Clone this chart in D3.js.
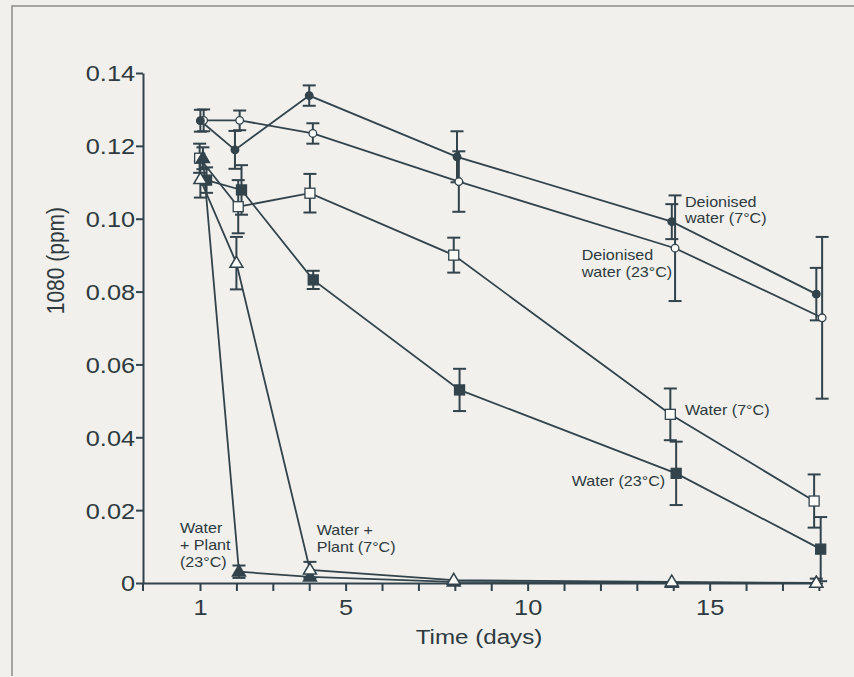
<!DOCTYPE html>
<html>
<head>
<meta charset="utf-8">
<script src="https://cdn.jsdelivr.net/npm/d3@7/dist/d3.min.js"></script>
<style>
  html, body { margin: 0; padding: 0; background: #f1f0ec; }
  svg { display: block; }
  text { font-family: "Liberation Sans", Arial, Helvetica, sans-serif; fill: #2e3a40; }
</style>
</head>
<body>
<svg id="chart" width="854" height="677"></svg>
<script>
// ---------------- data ----------------
const xTicks = [1,2,3,4,5,6,7,8,9,10,11,12,13,14,15,16,17,18];
const xTickLabels = [1, 5, 10, 15];
const yTicks = [0, 0.02, 0.04, 0.06, 0.08, 0.10, 0.12, 0.14];

// Deionised water (7°C) - filled circles
const deion7Days = [1.01, 1.96, 4.00, 8.06, 13.96, 17.93];
const deion7Vals = [0.1269, 0.1189, 0.1338, 0.1170, 0.0992, 0.0793];
const deion7Err  = [0.0030, 0.0052, 0.0028, 0.0070, 0.0048, 0.0072];

// Deionised water (23°C) - open circles
const deion23Days = [1.10, 2.09, 4.10, 8.11, 14.05, 18.09];
const deion23Vals = [0.1270, 0.1270, 0.1234, 0.1102, 0.0919, 0.0728];
const deion23Err  = [0.0030, 0.0027, 0.0028, 0.0083, 0.0145, 0.0222];

// Water (7°C) - open squares
const water7Days = [0.99, 2.05, 4.02, 7.97, 13.92, 17.87];
const water7Vals = [0.1166, 0.1033, 0.1070, 0.0900, 0.0463, 0.0225];
const water7Err  = [0.0040, 0.0073, 0.0053, 0.0048, 0.0071, 0.0073];

// Water (23°C) - filled squares
const water23Days = [1.18, 2.14, 4.11, 8.13, 14.08, 18.05];
const water23Vals = [0.1106, 0.1079, 0.0832, 0.0530, 0.0301, 0.0093];
const water23Err  = [0.0035, 0.0068, 0.0025, 0.0058, 0.0087, 0.0088];

// Water + Plant (7°C) - open triangles
const plant7Days = [1.01, 2.00, 4.02, 7.97, 13.96, 17.93];
const plant7Vals = [0.1108, 0.0878, 0.0036, 0.0008, 0.0003, 0.0000];
const plant7Err  = [0.0050, 0.0072, 0.0022, 0.0000, 0.0000, 0.0012];

// Water + Plant (23°C) - filled triangles
const plant23Days = [1.08, 2.07, 4.02, 7.97, 13.96, 17.93];
const plant23Vals = [0.1166, 0.0031, 0.0017, 0.0003, 0.0000, 0.0000];
const plant23Err  = [0.0030, 0.0017, 0.0000, 0.0000, 0.0000, 0.0000];

const seriesLabels = {
  deion7: ["Deionised", "water (7°C)"],
  deion23: ["Deionised", "water (23°C)"],
  water7: ["Water (7°C)"],
  water23: ["Water (23°C)"],
  plant7: ["Water +", "Plant (7°C)"],
  plant23: ["Water", "+ Plant", "(23°C)"]
};

// ---------------- build ----------------
const ink = "#32434c";
const paper = "#f1f0ec";
const openFill = "#fbfbf8";
const svg = d3.select("#chart");

function zip(days, vals, errs) {
  return days.map((d, i) => ({ d: d, v: vals[i], e: errs[i] }));
}
const series = [
  { key: "deion23", shape: "circle", filled: false, pts: zip(deion23Days, deion23Vals, deion23Err) },
  { key: "deion7",  shape: "circle", filled: true,  pts: zip(deion7Days, deion7Vals, deion7Err) },
  { key: "water7",  shape: "square", filled: false, pts: zip(water7Days, water7Vals, water7Err) },
  { key: "water23", shape: "square", filled: true,  pts: zip(water23Days, water23Vals, water23Err) },
  { key: "plant23", shape: "triangle", filled: true,  pts: zip(plant23Days, plant23Vals, plant23Err) },
  { key: "plant7",  shape: "triangle", filled: false, pts: zip(plant7Days, plant7Vals, plant7Err) }
];

// frame
svg.append("rect").attr("x", 0).attr("y", 0).attr("width", 854).attr("height", 677).attr("fill", paper);
svg.append("path").attr("d", "M12,676 L12,6 L854,6").attr("fill", "none").attr("stroke", "#8a8a88").attr("stroke-width", 1.5);

const x = d3.scaleLinear().domain([-0.566, 18.1]).range([143, 822.5]);
const y = d3.scaleLinear().domain([0, 0.14]).range([583, 73]);

const SX = 1.15; // horizontal stretch of the printed type

// Y axis
const yAxis = svg.append("g").attr("transform", "translate(143,0)")
  .call(d3.axisLeft(y).tickValues(yTicks).tickSize(7).tickSizeOuter(0)
    .tickFormat(v => v === 0 ? "0" : d3.format(".2f")(v)));
yAxis.select(".domain").attr("stroke", ink).attr("stroke-width", 2);
yAxis.selectAll(".tick line").attr("stroke", ink).attr("stroke-width", 2);
yAxis.selectAll(".tick text")
  .attr("x", -8 / SX).attr("dy", "0.36em")
  .attr("transform", `scale(${SX},1)`)
  .style("font-size", "22px").style("fill", "#2e3a40");

// X axis
const xAxis = svg.append("g").attr("transform", `translate(0,${y(0)})`)
  .call(d3.axisBottom(x).tickValues(xTicks).tickSize(8).tickSizeOuter(0)
    .tickFormat(v => xTickLabels.includes(v) ? String(v) : ""));
xAxis.select(".domain").attr("stroke", ink).attr("stroke-width", 2);
xAxis.selectAll(".tick line").attr("stroke", ink).attr("stroke-width", 2);
xAxis.selectAll(".tick text")
  .attr("y", 32).attr("dy", 0)
  .attr("transform", `scale(${SX},1)`)
  .style("font-size", "22px").style("fill", "#2e3a40");
// small downward extension of the y axis below the x axis
svg.append("line").attr("x1", 143).attr("x2", 143).attr("y1", y(0)).attr("y2", y(0) + 8)
  .attr("stroke", ink).attr("stroke-width", 2);

// Axis titles
svg.append("text")
  .attr("transform", `translate(479,644) scale(${SX},1)`)
  .attr("text-anchor", "middle").style("font-size", "21px").text("Time (days)");
svg.append("text")
  .attr("transform", `translate(64,${y(0.0885)}) scale(${SX},1) rotate(-90)`)
  .attr("text-anchor", "middle").style("font-size", "21px").text("1080 (ppm)");

// Lines
const line = d3.line().x(p => x(p.d)).y(p => y(p.v));
svg.append("g").selectAll("path").data(series).join("path")
  .attr("d", s => line(s.pts))
  .attr("fill", "none").attr("stroke", ink).attr("stroke-width", 1.8);

// Error bars
const cap = 6.5;
const eb = svg.append("g").attr("stroke", ink).attr("stroke-width", 2).attr("fill", "none");
series.forEach(s => {
  s.pts.filter(p => p.e > 0).forEach(p => {
    const cx = x(p.d), y1 = y(Math.max(0, p.v - p.e)), y2 = y(p.v + p.e);
    eb.append("line").attr("x1", cx).attr("x2", cx).attr("y1", y1).attr("y2", y2);
    eb.append("line").attr("x1", cx - cap).attr("x2", cx + cap).attr("y1", y2).attr("y2", y2);
    if (p.v - p.e > 0)
      eb.append("line").attr("x1", cx - cap).attr("x2", cx + cap).attr("y1", y1).attr("y2", y1);
  });
});

// Markers
const mk = svg.append("g");
series.forEach(s => {
  s.pts.forEach(p => {
    const cx = x(p.d), cy = y(p.v);
    const fill = s.filled ? ink : openFill;
    if (s.shape === "circle") {
      mk.append("circle").attr("cx", cx).attr("cy", cy).attr("r", 3.8)
        .attr("fill", fill).attr("stroke", ink).attr("stroke-width", 1.3);
    } else if (s.shape === "square") {
      mk.append("rect").attr("x", cx - 5).attr("y", cy - 5).attr("width", 10).attr("height", 10)
        .attr("fill", fill).attr("stroke", ink).attr("stroke-width", 1.3);
    } else {
      const w = 6.5, h = 11;
      mk.append("path")
        .attr("d", `M${cx},${cy - h * 0.62} L${cx + w},${cy + h * 0.38} L${cx - w},${cy + h * 0.38} Z`)
        .attr("fill", fill).attr("stroke", ink).attr("stroke-width", 1.5).attr("stroke-linejoin", "miter");
    }
  });
});

// Annotations
const labelPos = {
  deion7:  [685, 206.7],
  deion23: [581.7, 260],
  water7:  [685, 415],
  water23: [571.7, 486],
  plant7:  [316.7, 535],
  plant23: [180, 533.3]
};
const ann = svg.append("g");
Object.keys(seriesLabels).forEach(k => {
  const [lx, ly] = labelPos[k];
  seriesLabels[k].forEach((t, i) => {
    ann.append("text")
      .attr("transform", `translate(${lx},${ly + i * 16.7}) scale(${SX},1)`)
      .style("font-size", "14px").text(t);
  });
});
</script>
</body>
</html>
